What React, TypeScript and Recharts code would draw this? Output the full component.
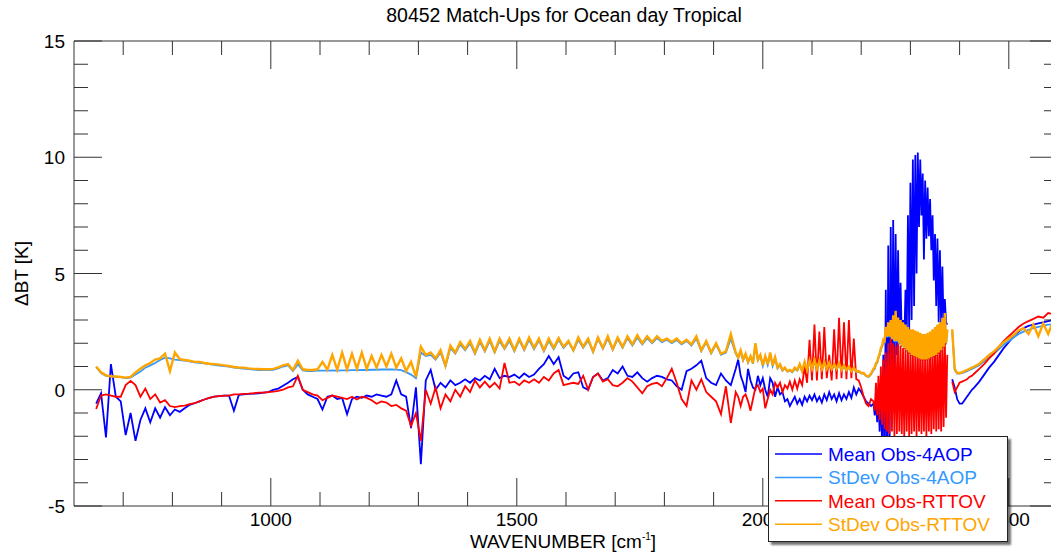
import { LineChart, Line, XAxis, YAxis, Legend } from "recharts";

// wavenumber grid [cm-1]: 10 step, then 5 step, 2.5 step through the noisy band, 10 step at the end
const WN = [
  645, 655, 665, 675, 685, 695, 705, 715, 725, 735,
  745, 755, 765, 775, 785, 795, 805, 815, 825, 835,
  845, 855, 865, 875, 885, 895, 905, 915, 925, 935,
  945, 955, 965, 975, 985, 995, 1005, 1015, 1025, 1035,
  1045, 1055, 1065, 1075, 1085, 1095, 1105, 1115, 1125, 1135,
  1145, 1155, 1165, 1175, 1185, 1195, 1205, 1215, 1225, 1235,
  1245, 1255, 1265, 1275, 1285, 1295, 1305, 1315, 1325, 1335,
  1345, 1355, 1365, 1375, 1385, 1395, 1405, 1415, 1425, 1435,
  1445, 1455, 1465, 1475, 1485, 1495, 1505, 1515, 1525, 1535,
  1545, 1555, 1565, 1575, 1585, 1595, 1605, 1615, 1625, 1635,
  1645, 1655, 1665, 1675, 1685, 1695, 1705, 1715, 1725, 1735,
  1745, 1755, 1765, 1775, 1785, 1795, 1805, 1815, 1825, 1835,
  1845, 1855, 1865, 1875, 1885, 1895, 1905, 1915, 1925, 1935,
  1945,
  1950, 1955, 1960, 1965, 1970, 1975, 1980, 1985, 1990, 1995,
  2000, 2005, 2010, 2015, 2020, 2025, 2030, 2035, 2040, 2045,
  2050, 2055, 2060, 2065, 2070, 2075, 2080, 2085, 2090, 2095,
  2100, 2105, 2110, 2115, 2120, 2125, 2130, 2135, 2140, 2145,
  2150, 2155, 2160, 2165, 2170, 2175, 2180, 2185, 2190, 2195,
  2200, 2205, 2210, 2215, 2220,
  2225, 2227.5, 2230, 2232.5, 2235, 2237.5, 2240, 2242.5, 2245, 2247.5,
  2250, 2252.5, 2255, 2257.5, 2260, 2262.5, 2265, 2267.5, 2270, 2272.5,
  2275, 2277.5, 2280, 2282.5, 2285, 2287.5, 2290, 2292.5, 2295, 2297.5,
  2300, 2302.5, 2305, 2307.5, 2310, 2312.5, 2315, 2317.5, 2320, 2322.5,
  2325, 2327.5, 2330, 2332.5, 2335, 2337.5, 2340, 2342.5, 2345, 2347.5,
  2350, 2352.5, 2355, 2357.5, 2360, 2362.5, 2365, 2367.5, 2370, 2372.5,
  2375,
  2380, 2385, 2390, 2395, 2400, 2405, 2410, 2415, 2420, 2425, 2430,
  2440, 2450, 2460, 2470, 2480, 2490, 2500, 2510, 2520, 2530,
  2540, 2550, 2560, 2570, 2580, 2590, 2600,
];

const MEAN_4AOP = [
  -0.6, -0.15, -2.05, 1.1, -0.3, -0.5, -1.95, -1.0, -2.2, -1.3,
  -0.8, -1.4, -0.8, -1.2, -0.75, -1.1, -0.85, -0.95, -0.8, -0.65,
  -0.58, -0.5, -0.42, -0.35, -0.3, -0.27, -0.25, -0.25, -0.9, -0.22,
  -0.2, -0.18, -0.17, -0.15, -0.12, -0.1, 0.0, 0.05, 0.17, 0.3,
  0.45, 0.55, 0.0, -0.2, -0.3, -0.4, -0.85, -0.3, -0.25, -0.4,
  -0.35, -1.05, -0.4, -0.3, -0.35, -0.25, -0.3, -0.2, -0.25, -0.3,
  -0.2, 0.4, -0.2, -0.3, -1.65, 0.1, -3.2, 0.4, 0.85, 0.0,
  0.3, 0.1, 0.4, 0.2, 0.3, 0.45, 0.3, 0.5, 0.4, 0.6,
  0.45, 0.9, 0.5, 0.6, 0.55, 0.65, 0.5, 0.7, 0.55, 0.65,
  0.9, 1.1, 1.45, 1.1, 1.4, 0.6, 0.45, 0.7, 0.75, 0.1,
  0.0, 0.55, 0.7, 0.4, 0.5, 0.85, 0.7, 1.0, 0.6, 0.55,
  0.75, 0.5, 0.35, 0.5, 0.6, 0.55, 0.45, 0.4, 0.15, 0.0,
  0.8, 0.9, 1.05, 1.25, 0.5, 0.3, 0.2, 0.7, 0.4, 0.2,
  0.9,
  1.3, 0.6, 0.3, -0.1, 0.9, 0.4, 0.1, 0.0, 0.6, 0.2,
  0.5, 0.0, -0.3, 0.5, 0.3, -0.3, 0.1, -0.2, -0.1, -0.5,
  -0.4, -0.7, -0.5, -0.3, -0.6, -0.4, -0.65, -0.3, -0.5, -0.25,
  -0.45, -0.2, -0.5, -0.3, -0.55, -0.2, -0.45, -0.1, -0.4, -0.2,
  -0.5, -0.15, -0.45, -0.2, -0.4, -0.1, -0.35, 0.1, -0.2, 0.05,
  -0.1, -0.3, -0.5, -0.6, -0.7,
  -0.6, -1.1, -0.5, -1.4, -0.3, -1.8, 0.2, -2.5, 1.5, -3.2,
  4.3, -3.8, 6.2, -3.0, 7.0, -1.0, 7.3, 0.5, 6.7, 1.5,
  6.0, 2.0, 4.6, 2.2, 3.0, 2.0, 4.3, 2.2, 7.5, 2.5,
  8.9, 3.0, 9.9, 3.6, 10.1, 5.0, 10.2, 7.0, 9.9, 7.5,
  9.3, 5.6, 9.0, 6.5, 8.7, 6.6, 8.2, 6.0, 7.5, 4.7,
  6.7, 3.6, 6.5, 2.9, 6.0, 2.7, 5.3, 2.6, 3.9, 2.9,
  2.8,
  null, 0.45, 0.1, -0.4, -0.6, -0.6, -0.45, -0.3, -0.15, 0.0, 0.1,
  0.35, 0.65, 0.95, 1.2, 1.5, 1.8, 2.05, 2.3, 2.5, 2.65,
  2.75, 2.8, 2.85, 2.9, 2.95, 3.0, 3.0,
];

const STDEV_4AOP = [
  0.98, 0.72, 0.6, 0.57, 0.55, 0.54, 0.5, 0.52, 0.66, 0.78,
  0.95, 1.05, 1.15, 1.28, 1.38, 1.35, 1.3, 1.28, 1.25, 1.22,
  1.18, 1.16, 1.13, 1.1, 1.07, 1.04, 1.02, 0.99, 0.95, 0.93,
  0.91, 0.89, 0.87, 0.85, 0.84, 0.84, 0.86, 0.92, 1.0, 1.05,
  0.8, 1.1, 0.83, 0.8, 0.8, 0.82, 0.82, 0.82, 0.83, 0.82,
  0.83, 0.83, 0.84, 0.84, 0.85, 0.85, 0.86, 0.86, 0.87, 0.87,
  0.88, 0.87, 0.84, 0.76, 0.65, 0.5, 1.6, 1.45, 1.5, 1.3,
  1.6, 1.0, 1.8, 1.55, 1.95, 1.7, 2.0, 1.55, 2.05, 1.65,
  2.1, 1.6, 2.1, 1.75, 2.1, 1.65, 2.12, 1.7, 2.15, 1.75,
  2.12, 1.65, 2.1, 1.75, 2.15, 1.8, 2.05, 1.68, 2.15, 1.8,
  2.12, 1.62, 2.18, 1.76, 2.2, 1.72, 2.18, 1.8, 2.22, 1.9,
  2.25, 1.95, 2.22, 2.0, 2.22, 2.05, 2.15, 2.0, 2.14, 1.95,
  2.1, 1.9, 2.2, 1.66, 2.04, 1.56, 1.95, 1.5, 1.6, 2.2,
  1.55,
  1.36, 1.62, 1.26, 1.5, 1.16, 1.4, 1.12, 1.85, 1.26, 1.45,
  1.02, 1.4, 1.06, 1.52, 1.02, 1.35, 0.92, 1.06, 0.82, 0.92,
  0.78, 0.82, 0.75, 0.9, 0.82, 1.05, 0.78, 1.12, 0.82, 1.18,
  0.86, 1.22, 0.86, 1.2, 0.85, 1.15, 0.86, 1.1, 0.85, 1.06,
  0.86, 1.1, 0.82, 1.0, 0.82, 0.96, 0.78, 0.92, 0.75, 0.77,
  0.7, 0.69, 0.58, 0.55, 0.66,
  0.85, 0.9, 1.1, 1.15, 1.35, 1.5, 1.72, 1.85, 2.05, 2.05,
  2.6, 2.25, 2.8, 2.25, 2.9, 2.15, 3.1, 2.05, 3.25, 2.05,
  3.0, 1.95, 2.9, 1.85, 2.8, 1.75, 2.7, 1.65, 2.62, 1.55,
  2.55, 1.45, 2.55, 1.4, 2.5, 1.36, 2.45, 1.3, 2.4, 1.26,
  2.36, 1.26, 2.36, 1.26, 2.4, 1.3, 2.45, 1.35, 2.55, 1.4,
  2.65, 1.45, 2.75, 1.55, 2.85, 1.65, 3.0, 1.8, 3.2, 1.95,
  2.5,
  null, 2.5, 0.85, 0.7, 0.7, 0.72, 0.76, 0.8, 0.85, 0.9, 0.95,
  1.05, 1.22, 1.4, 1.56, 1.75, 1.95, 2.1, 2.25, 2.4, 2.5,
  2.58, 2.65, 2.7, 2.75, 2.8, 2.82, 2.85,
];

const MEAN_RTTOV = [
  -0.83, -0.25, -0.2, -0.25, -0.3, -0.3, 0.2, 0.38, 0.2, -0.3,
  0.05, -0.4, -0.2, -0.55, -0.45, -0.7, -0.75, -0.7, -0.68, -0.62,
  -0.58, -0.5, -0.42, -0.35, -0.3, -0.27, -0.25, -0.25, -0.2, -0.2,
  -0.18, -0.17, -0.15, -0.12, -0.12, -0.1, -0.08, -0.05, 0.0, 0.1,
  0.15, 0.6, 0.0, -0.1, -0.2, -0.25, -0.45, -0.35, -0.25, -0.3,
  -0.35, -0.4, -0.3, -0.42, -0.3, -0.35, -0.45, -0.6, -0.5, -0.55,
  -0.7, -0.65, -0.8, -0.9, -1.55, -1.0, -2.2, 0.0, -0.6, 0.1,
  -0.8, -0.2, -0.5, 0.0, -0.3, 0.15, -0.1, 0.4, 0.1, 0.35,
  0.1, 0.3, 0.05, 1.15, 0.3, 0.35, 0.2, 0.4, 0.3, 0.45,
  0.3, 0.55, 0.4, 0.7, 0.85, 0.2, 0.25, 0.3, 0.25, 0.6,
  0.0, 0.55, 0.7, 0.35, 0.45, 0.2, 0.15, 0.3, 0.5, 0.35,
  0.1, -0.15, 0.15, 0.25, 0.3, 0.15, 0.5, 0.9, 0.3, -0.4,
  -0.7, 0.4, 0.0, 0.45, -0.1, -0.3, -0.5, -1.05, 0.15, -1.43,
  -0.1,
  -0.3, -0.7, -0.3, -0.2, -0.5, -0.9, -0.4, 0.1, 0.2, -0.1,
  0.05, -0.8, -0.4, 0.0, -0.2, 0.3, 0.1, 0.3, -0.1, 0.2,
  0.05, 0.35, 0.0, 0.4, 0.05, 0.45, 0.2, 1.0, 0.3, 2.15,
  0.4, 2.8, 0.4, 2.5, 0.45, 2.7, 0.5, 1.5, 0.4, 2.6,
  0.45, 3.1, 0.5, 2.9, 0.45, 3.0, 0.5, 2.2, 0.45, 0.4,
  0.1, -0.3, -0.6, -0.7, -0.4,
  -0.5, -0.9, 0.3, -1.1, 0.6, -1.3, 1.0, -1.5, 1.3, -1.7,
  1.6, -1.8, 2.0, -1.9, 2.2, -1.8, 2.0, -2.0, 1.9, -1.9,
  2.0, -1.8, 1.9, -1.9, 1.8, -2.1, 1.8, -1.8, 1.7, -2.0,
  1.8, -1.9, 1.7, -1.8, 1.6, -2.0, 1.8, -1.8, 1.7, -1.9,
  1.6, -1.8, 1.5, -2.0, 1.6, -1.8, 1.7, -1.9, 1.8, -1.7,
  1.9, -1.8, 2.0, -1.7, 2.1, -1.8, 2.2, -1.6, 2.1, -1.2,
  1.5,
  null, 0.35, -0.1, 0.1, 0.3, 0.35, 0.4, 0.45, 0.55, 0.6, 0.7,
  0.9, 1.1, 1.35, 1.55, 1.85, 2.1, 2.3, 2.5, 2.7, 2.85,
  2.95, 3.05, 3.15, 3.1, 3.3, 3.25, 3.45,
];

const STDEV_RTTOV = [
  1.0, 0.75, 0.62, 0.58, 0.57, 0.55, 0.52, 0.55, 0.75, 0.9,
  1.05, 1.15, 1.3, 1.35, 1.55, 0.8, 1.6, 1.32, 1.28, 1.25,
  1.2, 1.2, 1.15, 1.12, 1.1, 1.08, 1.05, 1.02, 0.98, 0.96,
  0.95, 0.92, 0.9, 0.89, 0.88, 0.88, 0.9, 0.96, 1.05, 1.1,
  0.85, 1.25, 0.88, 0.85, 0.85, 0.88, 1.2, 0.86, 1.5, 0.86,
  1.6, 0.88, 1.55, 0.9, 1.6, 0.9, 1.45, 0.95, 1.5, 1.0,
  1.55, 0.95, 1.35, 0.8, 1.2, 0.55, 1.85, 1.5, 1.6, 1.35,
  1.7, 1.05, 1.9, 1.6, 2.05, 1.75, 2.1, 1.6, 2.15, 1.7,
  2.2, 1.65, 2.2, 1.8, 2.2, 1.7, 2.2, 1.75, 2.25, 1.8,
  2.2, 1.7, 2.2, 1.8, 2.22, 1.85, 2.1, 1.7, 2.25, 1.85,
  2.2, 1.65, 2.25, 1.8, 2.3, 1.75, 2.25, 1.85, 2.3, 1.95,
  2.35, 2.0, 2.3, 2.05, 2.3, 2.1, 2.2, 2.05, 2.2, 2.0,
  2.15, 1.95, 2.3, 1.7, 2.1, 1.6, 2.0, 1.55, 1.65, 2.4,
  1.6,
  1.4, 1.7, 1.3, 1.55, 1.2, 1.45, 1.15, 2.0, 1.3, 1.5,
  1.05, 1.45, 1.1, 1.6, 1.05, 1.4, 0.95, 1.1, 0.85, 0.95,
  0.8, 0.85, 0.78, 0.95, 0.85, 1.1, 0.8, 1.2, 0.85, 1.25,
  0.9, 1.3, 0.9, 1.25, 0.88, 1.2, 0.9, 1.15, 0.88, 1.1,
  0.9, 1.15, 0.85, 1.05, 0.85, 1.0, 0.8, 0.95, 0.78, 0.8,
  0.72, 0.72, 0.6, 0.57, 0.7,
  0.9, 0.95, 1.15, 1.2, 1.4, 1.55, 1.8, 1.9, 2.15, 2.1,
  2.7, 2.3, 2.9, 2.3, 3.0, 2.2, 3.2, 2.1, 3.4, 2.1,
  3.1, 2.0, 3.0, 1.9, 2.9, 1.8, 2.8, 1.7, 2.7, 1.6,
  2.6, 1.5, 2.6, 1.45, 2.55, 1.4, 2.5, 1.35, 2.45, 1.3,
  2.4, 1.3, 2.4, 1.3, 2.45, 1.35, 2.5, 1.4, 2.6, 1.45,
  2.7, 1.5, 2.8, 1.6, 2.9, 1.7, 3.1, 1.85, 3.3, 2.0,
  2.6,
  null, 2.6, 0.9, 0.72, 0.72, 0.75, 0.8, 0.85, 0.9, 0.95, 1.0,
  1.12, 1.3, 1.5, 1.65, 1.85, 2.05, 2.2, 2.35, 2.55, 2.65,
  2.4, 2.8, 2.3, 2.85, 2.4, 2.95, 2.6,
];

const X_TICKS = [700, 800, 900, 1000, 1100, 1200, 1300, 1400, 1500, 1600, 1700, 1800, 1900, 2000, 2100, 2200, 2300, 2400, 2500];
const X_LABELS = [1000, 1500, 2000, 2500];
const Y_TICKS = [-5, -4, -3, -2, -1, 0, 1, 2, 3, 4, 5, 6, 7, 8, 9, 10, 11, 12, 13, 14, 15];
const Y_LABELS = [-5, 0, 5, 10, 15];

const SERIES = [
  { key: "mean4aop", name: "Mean Obs-4AOP", color: "#0000FF", width: 1.8 },
  { key: "sd4aop", name: "StDev Obs-4AOP", color: "#3399FF", width: 1.8 },
  { key: "meanRttov", name: "Mean Obs-RTTOV", color: "#FF0000", width: 1.8 },
  { key: "sdRttov", name: "StDev Obs-RTTOV", color: "#FFA500", width: 2.4 },
];

const data = WN.map((wn, i) => ({
  wn,
  mean4aop: MEAN_4AOP[i],
  sd4aop: STDEV_4AOP[i],
  meanRttov: MEAN_RTTOV[i],
  sdRttov: STDEV_RTTOV[i],
}));

const AXIS = "#333333";
const FONT = "'Liberation Sans', Arial, Helvetica, sans-serif";
const MAJOR = 28;
const MINOR = 14;

function BottomTick({ x, y, payload }: any) {
  const major = X_LABELS.includes(payload.value);
  return (
    <g>
      <line x1={x} y1={y} x2={x} y2={y - (major ? MAJOR : MINOR)} stroke={AXIS} />
      {major && (
        <text x={x} y={y + 20} textAnchor="middle" fontSize={19} fontFamily={FONT} fill="#000">
          {payload.value}
        </text>
      )}
    </g>
  );
}

function TopTick({ x, y, payload }: any) {
  const major = X_LABELS.includes(payload.value);
  return <line x1={x} y1={y} x2={x} y2={y + (major ? MAJOR : MINOR)} stroke={AXIS} />;
}

function LeftTick({ x, y, payload }: any) {
  const major = Y_LABELS.includes(payload.value);
  return (
    <g>
      <line x1={x} y1={y} x2={x + (major ? MAJOR : MINOR)} y2={y} stroke={AXIS} />
      {major && (
        <text x={x - 9} y={y + 7} textAnchor="end" fontSize={19} fontFamily={FONT} fill="#000">
          {payload.value}
        </text>
      )}
    </g>
  );
}

function RightTick({ x, y, payload }: any) {
  const major = Y_LABELS.includes(payload.value);
  return <line x1={x} y1={y} x2={x - (major ? MAJOR : MINOR)} y2={y} stroke={AXIS} />;
}

function ChartTitle({ viewBox }: any) {
  return (
    <text x={viewBox.x + viewBox.width / 2 - 2} y={22} textAnchor="middle" fontSize={19.5} fontFamily={FONT} fill="#000">
      80452 Match-Ups for Ocean day Tropical
    </text>
  );
}

function XTitle({ viewBox }: any) {
  return (
    <text x={viewBox.x + viewBox.width / 2 - 3} y={viewBox.y + 42} textAnchor="middle" fontSize={19} fontFamily={FONT} fill="#000">
      WAVENUMBER [cm
      <tspan fontSize={10} dy={-8}>-1</tspan>
      <tspan dy={8}>]</tspan>
    </text>
  );
}

function YTitle({ viewBox }: any) {
  const cy = viewBox.y + viewBox.height / 2;
  return (
    <text x={28} y={cy} transform={`rotate(-90 28 ${cy})`} textAnchor="middle" fontSize={19} fontFamily={FONT} fill="#000">
      ΔBT [K]
    </text>
  );
}

function LegendBox() {
  return (
    <div
      style={{
        width: 238,
        height: 104,
        border: "1px solid #222",
        background: "#fff",
        boxShadow: "3px 3px 2px rgba(0,0,0,0.55)",
      }}
    >
      <svg width={238} height={104}>
        {SERIES.map((s, i) => {
          const cy = 17 + i * 23.4;
          return (
            <g key={s.key}>
              <line x1={6} y1={cy} x2={53} y2={cy} stroke={s.color} strokeWidth={1.5} />
              <text x={59} y={cy + 6.8} fontSize={19} fontFamily={FONT} fill={s.color}>
                {s.name}
              </text>
            </g>
          );
        })}
      </svg>
    </div>
  );
}

export default function App() {
  return (
    <div
      style={{
        position: "absolute",
        left: 0,
        top: 0,
        width: 1051,
        height: 557,
        overflow: "hidden",
        background: "#fff",
      }}
    >
      <LineChart width={1080} height={557} data={data} margin={{ top: 0, right: 0, bottom: 0, left: 0 }}>
        <XAxis
          xAxisId="bottom"
          dataKey="wn"
          type="number"
          domain={[600, 2600]}
          allowDataOverflow
          ticks={X_TICKS}
          interval={0}
          height={51}
          tickSize={0}
          tickMargin={0}
          tickLine={false}
          tick={BottomTick}
          axisLine={{ stroke: AXIS }}
          label={{ content: XTitle }}
        />
        <XAxis
          xAxisId="top"
          orientation="top"
          dataKey="wn"
          type="number"
          domain={[600, 2600]}
          allowDataOverflow
          ticks={X_TICKS}
          interval={0}
          height={41}
          tickSize={0}
          tickMargin={0}
          tickLine={false}
          tick={TopTick}
          axisLine={{ stroke: AXIS }}
          label={{ content: ChartTitle }}
        />
        <YAxis
          yAxisId="left"
          type="number"
          domain={[-5, 15]}
          allowDataOverflow
          ticks={Y_TICKS}
          interval={0}
          width={74}
          tickSize={0}
          tickMargin={0}
          tickLine={false}
          tick={LeftTick}
          axisLine={{ stroke: AXIS }}
          label={{ content: YTitle }}
        />
        <YAxis
          yAxisId="right"
          orientation="right"
          type="number"
          domain={[-5, 15]}
          allowDataOverflow
          ticks={Y_TICKS}
          interval={0}
          width={22}
          tickSize={0}
          tickMargin={0}
          tickLine={false}
          tick={RightTick}
          axisLine={{ stroke: AXIS }}
        />
        <Legend
          layout="vertical"
          align="center"
          verticalAlign="middle"
          wrapperStyle={{ left: 768, top: 436, width: 240, height: 106 }}
          content={LegendBox}
        />
        {SERIES.map((s) => (
          <Line
            key={s.key}
            xAxisId="bottom"
            yAxisId="left"
            type="linear"
            dataKey={s.key}
            name={s.name}
            stroke={s.color}
            strokeWidth={s.width}
            strokeLinejoin="miter"
            dot={false}
            activeDot={false}
            isAnimationActive={false}
          />
        ))}
      </LineChart>
    </div>
  );
}
